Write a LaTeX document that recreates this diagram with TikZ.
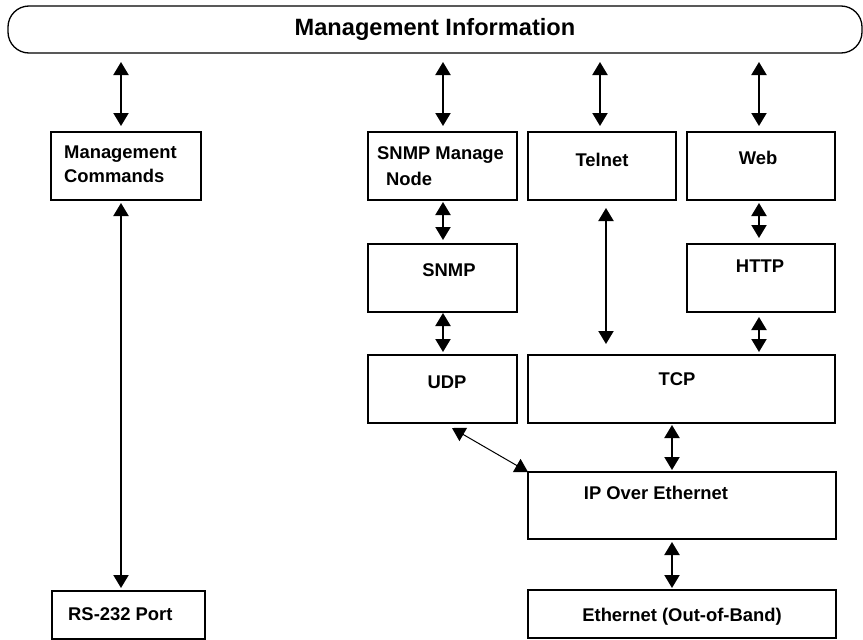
\documentclass[tikz,border=0pt]{standalone}
\usepackage{fontspec}
\setmainfont{Liberation Sans}
\usetikzlibrary{arrows.meta}
\tikzset{
  box/.style={draw, line width=2pt, rectangle, anchor=north west, inner sep=0pt, outer sep=0pt},
  bar/.style={draw, line width=1.3pt, rectangle, rounded corners=21pt, anchor=north west, inner sep=0pt, outer sep=0pt,
    font=\fontsize{23.6}{26}\selectfont\bfseries},
  txt/.style={font=\fontsize{18.4}{22}\selectfont\bfseries, inner sep=0pt},
  dbl/.style={line width=2pt, {Triangle[length=13pt,width=15pt]}-{Triangle[length=13pt,width=15pt]}},
  thin/.style={line width=1pt, {Triangle[length=13pt,width=15pt]}-{Triangle[length=13pt,width=15pt]}}
}
\begin{document}
\begin{tikzpicture}[x=1pt,y=-1pt]
\useasboundingbox (0,0) rectangle (863,640);
% title bar
\node[bar, minimum width=854pt, minimum height=47pt] (bar) at (8,6) {Management Information};
% boxes
\node[box, minimum width=150pt, minimum height=68pt] (mc) at (51,132) {};
\node[box, minimum width=153pt, minimum height=48pt] (rs) at (52,591) {};
\node[box, minimum width=149pt, minimum height=68pt] (snmpmn) at (368,132) {};
\node[box, minimum width=148pt, minimum height=68pt] (telnet) at (528,132) {};
\node[box, minimum width=148pt, minimum height=68pt] (web) at (687,132) {};
\node[box, minimum width=149pt, minimum height=68pt] (snmp) at (368,244) {};
\node[box, minimum width=148pt, minimum height=68pt] (http) at (687,244) {};
\node[box, minimum width=149pt, minimum height=68pt] (udp) at (368,355) {};
\node[box, minimum width=307pt, minimum height=68pt] (tcp) at (528,355) {};
\node[box, minimum width=308pt, minimum height=67pt] (ip) at (528,472) {};
\node[box, minimum width=308pt, minimum height=48pt] (eth) at (528,590) {};
% texts
\node[txt, anchor=base west] (t1) at (64,158) {Management};
\node[txt, anchor=base west] (t2) at (64,182) {Commands};
\node[txt, anchor=base west] (t3) at (68,620) {RS-232 Port};
\node[txt, anchor=base west] (t4) at (377,159) {SNMP Manage};
\node[txt, anchor=base west] (t5) at (386,185) {Node};
\node[txt, anchor=base] (t6) at (602,166) {Telnet};
\node[txt, anchor=base] (t7) at (758,164) {Web};
\node[txt, anchor=base] (t8) at (449,276) {SNMP};
\node[txt, anchor=base] (t9) at (760,272) {HTTP};
\node[txt, anchor=base] (t10) at (447,388) {UDP};
\node[txt, anchor=base] (t11) at (677,385) {TCP};
\node[txt, anchor=base] (t12) at (656,499) {IP Over Ethernet};
\node[txt, anchor=base] (t13) at (682,621) {Ethernet (Out-of-Band)};
% x positions of connectors
\coordinate (xa) at (121,0);
\coordinate (xb) at (443,0);
\coordinate (xc) at (600,0);
\coordinate (xd) at (759,0);
\coordinate (xe) at (606,0);
\coordinate (xf) at (672,0);
% connectors
\draw[dbl, shorten <=9pt, shorten >=6pt] (bar.south -| xa) -- (mc.north -| xa);
\draw[dbl, shorten <=9pt, shorten >=6pt] (bar.south -| xb) -- (snmpmn.north -| xb);
\draw[dbl, shorten <=9pt, shorten >=6pt] (bar.south -| xc) -- (telnet.north -| xc);
\draw[dbl, shorten <=9pt, shorten >=6pt] (bar.south -| xd) -- (web.north -| xd);
\draw[dbl, shorten <=3pt, shorten >=3pt] (mc.south -| xa) -- (rs.north -| xa);
\draw[dbl, shorten <=2pt, shorten >=4pt] (snmpmn.south -| xb) -- (snmp.north -| xb);
\draw[dbl, shorten <=1pt, shorten >=3pt] (snmp.south -| xb) -- (udp.north -| xb);
\draw[dbl, shorten <=3pt, shorten >=6pt] (web.south -| xd) -- (http.north -| xd);
\draw[dbl, shorten <=5pt, shorten >=3pt] (http.south -| xd) -- (tcp.north -| xd);
\draw[dbl, shorten <=8pt, shorten >=11pt] (telnet.south -| xe) -- (tcp.north -| xe);
\draw[dbl, shorten <=2pt, shorten >=2pt] (tcp.south -| xf) -- (ip.north -| xf);
\draw[dbl, shorten <=3pt, shorten >=2pt] (ip.south -| xf) -- (eth.north -| xf);
\coordinate (ud) at (452,428);
\draw[thin] (ud) -- (ip.north west);
\end{tikzpicture}
\end{document}
